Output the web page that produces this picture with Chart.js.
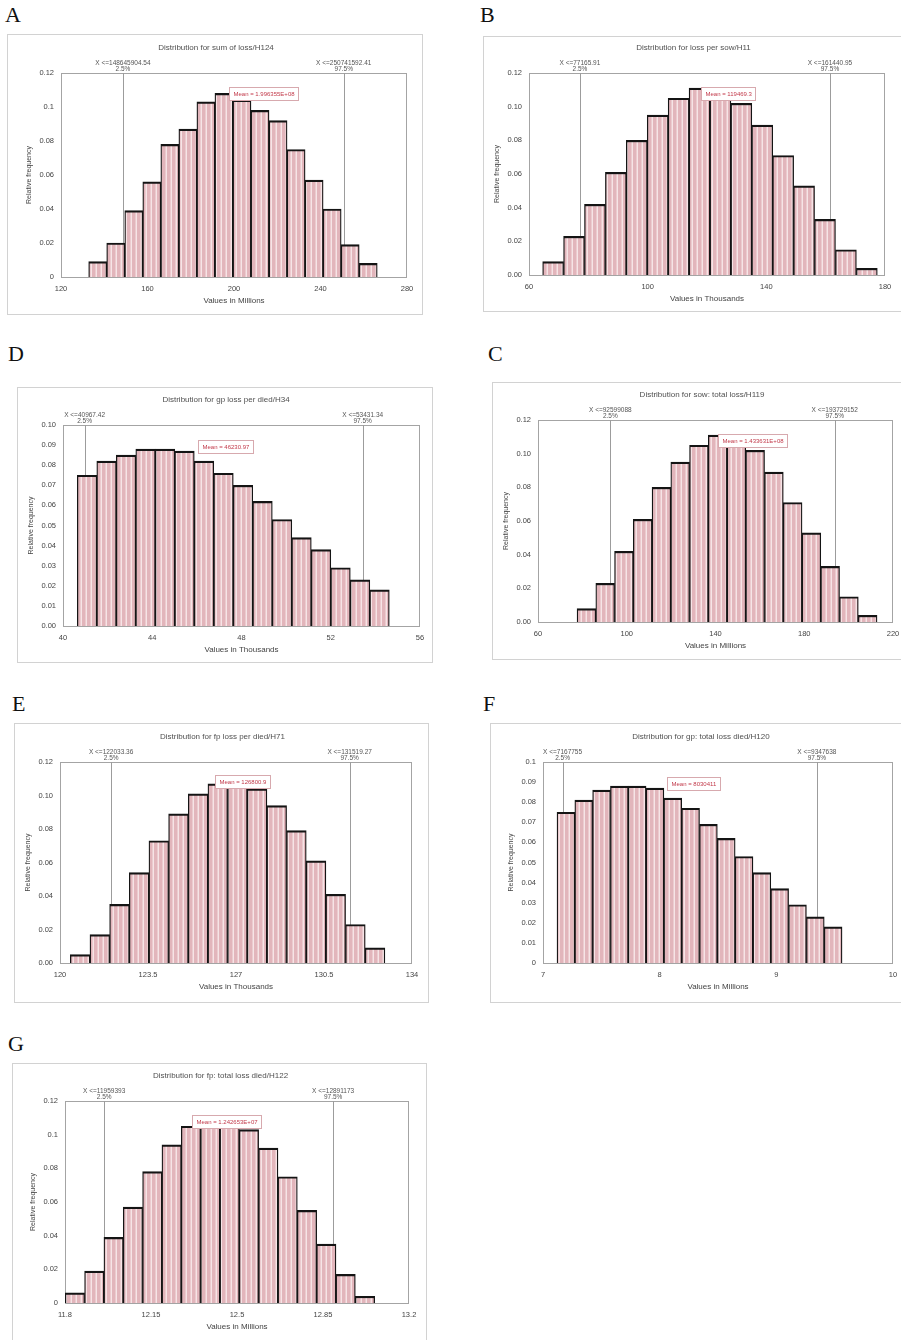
<!DOCTYPE html>
<html><head><meta charset="utf-8">
<script src="https://cdn.jsdelivr.net/npm/chart.js@4/dist/chart.umd.min.js"></script>
<style>
html,body{margin:0;padding:0;background:#fff;}
body{width:901px;height:1340px;overflow:hidden;position:relative;}
.letter{position:absolute;font-family:"Liberation Serif","DejaVu Serif",serif;font-size:22px;line-height:22px;color:#111;}
.frame{position:absolute;border:1.5px solid #d2d2d2;box-sizing:border-box;pointer-events:none;}
canvas{position:absolute;}
</style></head><body>
<script>
// ---------------- DATA ----------------
const panelLetters = ['A','B','D','C','E','F','G'];
const chartTitles = [
  'Distribution for sum of loss/H124',
  'Distribution for loss per sow/H11',
  'Distribution for gp loss per died/H34',
  'Distribution for sow: total loss/H119',
  'Distribution for fp loss per died/H71',
  'Distribution for gp: total loss died/H120',
  'Distribution for fp: total loss died/H122'
];
const xAxisTitles = ['Values in Millions','Values in Thousands','Values in Thousands','Values in Millions','Values in Thousands','Values in Millions','Values in Millions'];
const yAxisTitle = 'Relative frequency';

// bin centres (axis units) and relative frequencies
const aCenters = [136.97,145.31,153.65,161.99,170.33,178.67,187.01,195.35,203.69,212.03,220.37,228.71,237.05,245.39,253.73,262.07];
const aFreq    = [0.009,0.020,0.039,0.056,0.078,0.087,0.103,0.108,0.104,0.098,0.092,0.075,0.057,0.040,0.019,0.008];
const bCenters = [68.13,75.18,82.23,89.28,96.33,103.38,110.43,117.48,124.53,131.58,138.63,145.68,152.73,159.78,166.83,173.88];
const bFreq    = [0.008,0.023,0.042,0.061,0.080,0.095,0.105,0.111,0.108,0.102,0.089,0.071,0.053,0.033,0.015,0.004];
const dCenters = [41.077,41.951,42.825,43.699,44.573,45.447,46.321,47.195,48.069,48.943,49.817,50.691,51.565,52.439,53.313,54.187];
const dFreq    = [0.075,0.082,0.085,0.088,0.088,0.087,0.082,0.076,0.070,0.062,0.053,0.044,0.038,0.029,0.023,0.018];
const cCenters = [81.83,90.28,98.73,107.18,115.63,124.08,132.53,140.98,149.43,157.88,166.33,174.78,183.23,191.68,200.13,208.58];
const cFreq    = [0.008,0.023,0.042,0.061,0.080,0.095,0.105,0.111,0.108,0.102,0.089,0.071,0.053,0.033,0.015,0.004];
const eCenters = [120.801,121.583,122.365,123.147,123.929,124.711,125.493,126.275,127.057,127.839,128.621,129.403,130.185,130.967,131.749,132.531];
const eFreq    = [0.005,0.017,0.035,0.054,0.073,0.089,0.101,0.107,0.105,0.104,0.094,0.079,0.061,0.041,0.023,0.009];
const fCenters = [7.1964,7.3491,7.5018,7.6545,7.8072,7.9599,8.1126,8.2653,8.4180,8.5707,8.7234,8.8761,9.0288,9.1815,9.3342,9.4869];
const fFreq    = [0.075,0.081,0.086,0.088,0.088,0.087,0.082,0.077,0.069,0.062,0.053,0.045,0.037,0.029,0.023,0.018];
const gCenters = [11.8404,11.9191,11.9978,12.0765,12.1552,12.2339,12.3126,12.3913,12.4700,12.5487,12.6274,12.7061,12.7848,12.8635,12.9422,13.0209];
const gFreq    = [0.006,0.019,0.039,0.057,0.078,0.094,0.105,0.108,0.107,0.103,0.092,0.075,0.055,0.035,0.017,0.004];

// x tick values and labels
const aXTicks = [120,160,200,240,280];
const bXTicks = [60,100,140,180];
const dXTicks = [40,44,48,52,56];
const cXTicks = [60,100,140,180,220];
const eXTicks = [120,123.5,127,130.5,134];
const fXTicks = [7,8,9,10];
const gXTicks = [11.8,12.15,12.5,12.85,13.2];
const aXLabels = ['120','160','200','240','280'];
const bXLabels = ['60','100','140','180'];
const dXLabels = ['40','44','48','52','56'];
const cXLabels = ['60','100','140','180','220'];
const eXLabels = ['120','123.5','127','130.5','134'];
const fXLabels = ['7','8','9','10'];
const gXLabels = ['11.8','12.15','12.5','12.85','13.2'];

// y tick values and labels
const yTicks12 = [0,0.02,0.04,0.06,0.08,0.10,0.12];
const yTicks10 = [0,0.01,0.02,0.03,0.04,0.05,0.06,0.07,0.08,0.09,0.10];
const yLabels12General = ['0','0.02','0.04','0.06','0.08','0.1','0.12'];
const yLabels12Fixed   = ['0.00','0.02','0.04','0.06','0.08','0.10','0.12'];
const yLabels10Fixed   = ['0.00','0.01','0.02','0.03','0.04','0.05','0.06','0.07','0.08','0.09','0.10'];
const yLabels10General = ['0','0.01','0.02','0.03','0.04','0.05','0.06','0.07','0.08','0.09','0.1'];

// percentile markers (axis units) and their labels
const lowPct  = [148.64590454, 77.16591, 40.96742, 92.599088, 122.03336, 7.167755, 11.959393];
const highPct = [250.74159241, 161.44095, 53.43134, 193.729152, 131.51927, 9.347638, 12.891173];
const lowPctLabels  = ['X <=148645904.54','X <=77165.91','X <=40967.42','X <=92599088','X <=122033.36','X <=7167755','X <=11959393'];
const highPctLabels = ['X <=250741592.41','X <=161440.95','X <=53431.34','X <=193729152','X <=131519.27','X <=9347638','X <=12891173'];
const meanLabels = ['Mean = 1.996355E+08','Mean = 119469.3','Mean = 46230.97','Mean = 1.433631E+08','Mean = 126800.9','Mean = 8030411','Mean = 1.242653E+07'];

// ---------------- LAYOUT (page pixels) ----------------
const layouts = [
  {frame:{x:7,  y:34,  w:416, h:281}, plot:{l:61, t:73,  r:407, b:277}, letter:{x:5,  y:4},   mean:{x:229, y:87}},
  {frame:{x:483,y:36,  w:419, h:276}, plot:{l:529,t:73,  r:885, b:275}, letter:{x:480,y:4},   mean:{x:701, y:87}},
  {frame:{x:17, y:387, w:416, h:276}, plot:{l:63, t:425, r:420, b:626}, letter:{x:8,  y:343}, mean:{x:198, y:440}},
  {frame:{x:492,y:382, w:418, h:278}, plot:{l:538,t:420, r:893, b:622}, letter:{x:488,y:343}, mean:{x:718, y:434}},
  {frame:{x:14, y:723, w:415, h:280}, plot:{l:60, t:762, r:412, b:963}, letter:{x:12, y:693}, mean:{x:215, y:775}},
  {frame:{x:490,y:723, w:420, h:280}, plot:{l:543,t:762, r:893, b:963}, letter:{x:483,y:693}, mean:{x:667, y:777}},
  {frame:{x:12, y:1063,w:415, h:290}, plot:{l:65, t:1101,r:409, b:1303},letter:{x:8,  y:1033},mean:{x:192, y:1115}}
];

const centersList = [aCenters,bCenters,dCenters,cCenters,eCenters,fCenters,gCenters];
const freqList = [aFreq,bFreq,dFreq,cFreq,eFreq,fFreq,gFreq];
const xTicksList = [aXTicks,bXTicks,dXTicks,cXTicks,eXTicks,fXTicks,gXTicks];
const xLabelsList = [aXLabels,bXLabels,dXLabels,cXLabels,eXLabels,fXLabels,gXLabels];
const yTicksList = [yTicks12,yTicks12,yTicks10,yTicks12,yTicks12,yTicks10,yTicks12];
const yLabelsList = [yLabels12General,yLabels12Fixed,yLabels10Fixed,yLabels12Fixed,yLabels12Fixed,yLabels10General,yLabels12General];

const FONT = '"Liberation Sans", Arial, sans-serif';

function makePattern(ctx){
  const c = document.createElement('canvas');
  c.width = 5; c.height = 4;
  const g = c.getContext('2d');
  g.fillStyle = '#e2b5bb'; g.fillRect(0,0,5,4);
  g.fillStyle = '#eccbcf'; g.fillRect(3,0,1,4);
  g.fillStyle = '#f6e4e6'; g.fillRect(4,0,1,4);
  return ctx.createPattern(c,'repeat');
}

function buildPanel(i){
  const L = layouts[i], F = L.frame, P = L.plot;
  const letter = document.createElement('div');
  letter.className = 'letter';
  letter.textContent = panelLetters[i];
  letter.style.left = L.letter.x + 'px';
  letter.style.top = L.letter.y + 'px';
  document.body.appendChild(letter);

  const canvas = document.createElement('canvas');
  canvas.width = F.w; canvas.height = F.h;
  canvas.style.left = F.x + 'px'; canvas.style.top = F.y + 'px';
  canvas.style.width = F.w + 'px'; canvas.style.height = F.h + 'px';
  document.body.appendChild(canvas);
  const fr = document.createElement('div');
  fr.className = 'frame';
  fr.style.left = F.x + 'px'; fr.style.top = F.y + 'px';
  fr.style.width = F.w + 'px'; fr.style.height = F.h + 'px';
  document.body.appendChild(fr);

  const ctx = canvas.getContext('2d');
  const pattern = makePattern(ctx);
  const padTop = P.t - F.y;
  const padRight = F.x + F.w - P.r;
  const yW = P.l - F.x;
  const xH = F.y + F.h - P.b;
  const xT = xTicksList[i], yT = yTicksList[i];
  const xTitleSize = 8, yTitleSize = 7;
  const xTitlePadBottom = F.h - (P.b - F.y + 24) - xTitleSize*1.2/2;
  const yTitlePadTop = (P.l - 32 - F.x) - yTitleSize*1.2/2;

  const decor = {
    id: 'decor' + i,
    beforeDatasetsDraw(chart){
      const c = chart.ctx, a = chart.chartArea, x = chart.scales.x;
      c.save();
      c.strokeStyle = '#a4a4a4'; c.lineWidth = 1;
      c.strokeRect(Math.round(a.left)+0.5, Math.round(a.top)+0.5, Math.round(a.right-a.left)-1, Math.round(a.bottom-a.top));
      c.strokeStyle = '#9c9c9c';
      [lowPct[i], highPct[i]].forEach(v => {
        const px = Math.round(x.getPixelForValue(v)) + 0.5;
        c.beginPath(); c.moveTo(px, a.top); c.lineTo(px, a.bottom); c.stroke();
      });
      c.restore();
    },
    afterDraw(chart){
      const c = chart.ctx, a = chart.chartArea, x = chart.scales.x;
      c.save();
      c.fillStyle = '#505050';
      c.textAlign = 'center'; c.textBaseline = 'middle';
      c.font = '8px ' + FONT;
      c.fillText(chartTitles[i], chart.width/2 + 1, a.top - 25);
      c.font = '6.5px ' + FONT;
      c.fillStyle = '#555';
      const pl = [[lowPct[i], lowPctLabels[i], '2.5%'], [highPct[i], highPctLabels[i], '97.5%']];
      pl.forEach(([v, t1, t2]) => {
        const px = x.getPixelForValue(v);
        c.fillText(t1, px, a.top - 10);
        c.fillText(t2, px, a.top - 3.5);
      });
      // mean label box
      c.font = '6px ' + FONT;
      const tw = c.measureText(meanLabels[i]).width;
      const bx = Math.round(L.mean.x - F.x) + 0.5, by = Math.round(L.mean.y - F.y) + 0.5;
      const bw = Math.round(tw + 8), bh = 13;
      c.fillStyle = '#fff';
      c.fillRect(bx, by, bw, bh);
      c.strokeStyle = '#d7a9ae'; c.lineWidth = 1;
      c.strokeRect(bx, by, bw, bh);
      c.fillStyle = '#c23a4a';
      c.textAlign = 'left';
      c.fillText(meanLabels[i], bx + 4, by + bh/2 + 0.5);
      c.restore();
    }
  };

  new Chart(ctx, {
    type: 'bar',
    data: {
      datasets: [{
        data: centersList[i].map((cx, k) => ({x: cx, y: freqList[i][k]})),
        backgroundColor: pattern,
        borderColor: '#141414',
        borderWidth: {top: 2.2, left: 1.3, right: 1.3, bottom: 0},
        barPercentage: 1,
        categoryPercentage: 1,
        grouped: false
      }]
    },
    options: {
      responsive: false,
      animation: false,
      events: [],
      layout: {padding: {top: padTop, right: padRight, left: 0, bottom: 0}},
      plugins: {legend: {display: false}, tooltip: {enabled: false}, title: {display: false}},
      scales: {
        x: {
          type: 'linear', offset: false,
          min: xT[0], max: xT[xT.length-1],
          grid: {display: false, drawTicks: false, offset: false},
          border: {display: false},
          afterBuildTicks: s => { s.ticks = xT.map(v => ({value: v})); },
          afterFit: s => { s.height = xH; },
          ticks: {autoSkip: false, maxRotation: 0, minRotation: 0, padding: 7, color: '#444',
                  font: {family: FONT, size: 7.5},
                  callback: (v, k) => xLabelsList[i][k]},
          title: {display: true, text: xAxisTitles[i], color: '#444',
                  font: {family: FONT, size: xTitleSize},
                  padding: {top: 0, bottom: xTitlePadBottom}}
        },
        y: {
          min: 0, max: yT[yT.length-1],
          grid: {display: false, drawTicks: false},
          border: {display: false},
          afterBuildTicks: s => { s.ticks = yT.map(v => ({value: v})); },
          afterFit: s => { s.width = yW; },
          ticks: {autoSkip: false, padding: 7, color: '#444',
                  font: {family: FONT, size: 7.5},
                  callback: (v, k) => yLabelsList[i][k]},
          title: {display: true, text: yAxisTitle, color: '#444',
                  font: {family: FONT, size: yTitleSize},
                  padding: {top: yTitlePadTop, bottom: 0}}
        }
      }
    },
    plugins: [decor]
  });
}

for (let i = 0; i < layouts.length; i++) buildPanel(i);
</script>
</body></html>
